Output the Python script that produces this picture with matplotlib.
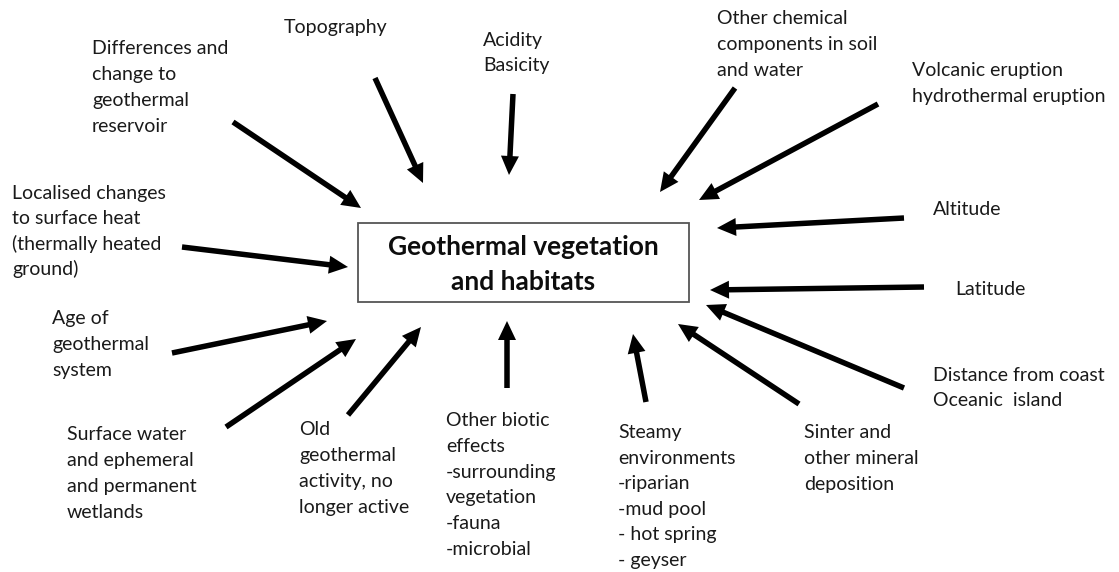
import matplotlib.pyplot as plt
from matplotlib.patches import Rectangle

plt.rcParams['font.family'] = ['Lato', 'DejaVu Sans']

W, H = 1119, 572

# centre box
box_x0, box_y0, box_x1, box_y1 = 358, 223, 689, 302
title = "Geothermal vegetation\nand habitats"
title_lines_y = [246, 281]

# labels: text, left x, centre of first line, line spacing
labels = [
    "Differences and\nchange to\ngeothermal\nreservoir",
    "Topography",
    "Acidity\nBasicity",
    "Other chemical\ncomponents in soil\nand water",
    "Volcanic eruption\nhydrothermal eruption",
    "Altitude",
    "Latitude",
    "Distance from coast\nOceanic  island",
    "Sinter and\nother mineral\ndeposition",
    "Steamy\nenvironments\n-riparian\n-mud pool\n- hot spring\n- geyser",
    "Other biotic\neffects\n-surrounding\nvegetation\n-fauna\n-microbial",
    "Old\ngeothermal\nactivity, no\nlonger active",
    "Surface water\nand ephemeral\nand permanent\nwetlands",
    "Age of\ngeothermal\nsystem",
    "Localised changes\nto surface heat\n(thermally heated\nground)",
]
label_x = [92, 284, 483, 717, 912, 933, 955, 933, 804, 618, 446, 299, 67, 52, 12]
label_y = [48, 27, 40, 18, 70, 209, 289, 375, 432, 432, 420, 429, 434, 318, 193]
label_gap = [26, 26, 25, 26, 26, 26, 26, 25, 26, 25.6, 25.8, 26, 26, 26, 25.3]

# arrows: tail -> tip
tail_x = [233, 375, 513, 735, 878, 904, 924, 904, 799, 646, 507, 348, 226, 172, 182]
tail_y = [122, 78, 94, 88, 104, 218, 287, 388, 404, 402, 388, 415, 427, 353, 247]
tip_x = [361, 423, 509, 660, 699, 717, 710, 706, 678, 633, 507, 421, 356, 327, 348]
tip_y = [208, 183, 175, 192, 200, 228, 290, 305, 324, 334, 321, 327, 339, 321, 267]

fig = plt.figure(figsize=(W / 100, H / 100), dpi=100)
ax = fig.add_axes([0, 0, 1, 1])
ax.set_xlim(0, W)
ax.set_ylim(H, 0)
ax.axis('off')

ax.add_patch(Rectangle((box_x0, box_y0), box_x1 - box_x0, box_y1 - box_y0,
                       fill=False, edgecolor='#555555', lw=1.3))
for line, y in zip(title.split("\n"), title_lines_y):
    ax.text((box_x0 + box_x1) / 2, y + 9, line, ha='center', va='baseline',
            fontsize=19, fontweight='bold', color='#0d0d0d')

for txt, x, y, gap in zip(labels, label_x, label_y, label_gap):
    for i, line in enumerate(txt.split("\n")):
        ax.text(x, y + i * gap + 6, line, ha='left', va='baseline',
                fontsize=14, color='#1a1a1a')

for x0, y0, x1, y1 in zip(tail_x, tail_y, tip_x, tip_y):
    ax.arrow(x0, y0, x1 - x0, y1 - y0, width=5.5, head_width=18,
             head_length=19, length_includes_head=True,
             color='black', lw=0)

fig.savefig("out.png", dpi=100)
